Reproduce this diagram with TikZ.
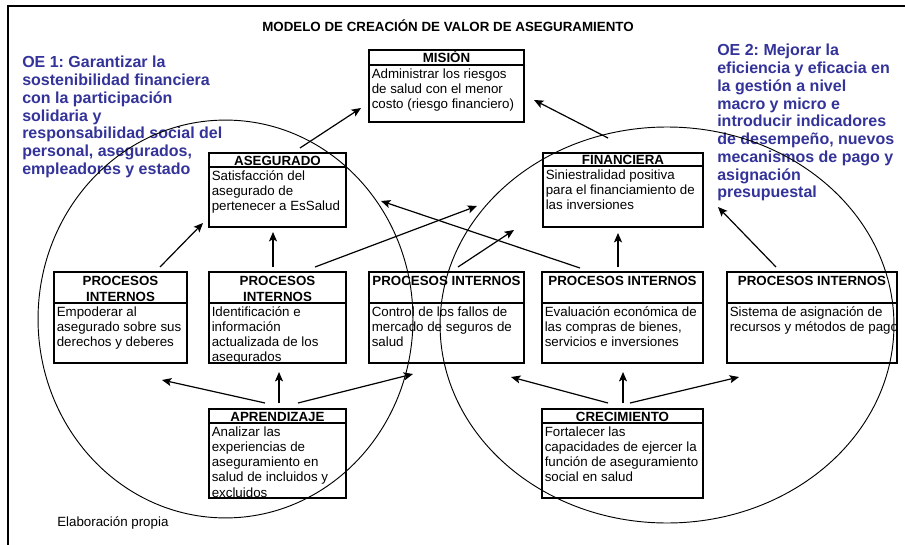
\documentclass[tikz,border=0pt]{standalone}
\usepackage{fontspec}
\setmainfont{Liberation Sans}
\usetikzlibrary{arrows.meta,calc,fit}
\definecolor{oeblue}{RGB}{51,51,153}
\frenchspacing

\tikzset{
  boxline/.style={draw, line width=1.5pt, inner sep=0pt},
  sepline/.style={line width=1.1pt},
  headtxt/.style={font=\fontsize{10}{12}\selectfont\bfseries, align=center, inner sep=0pt, anchor=north},
  bodytxt/.style={font=\fontsize{10}{11.4}\selectfont, align=left, inner sep=0pt, anchor=north west},
  link/.style={line width=0.9pt, -{Stealth[length=7pt,width=6pt,inset=1.5pt]}},
  orbit/.style={line width=0.7pt},
  goal/.style={font=\fontsize{12}{13.3}\selectfont\bfseries, text=oeblue, align=left, inner sep=0pt, anchor=north west},
}

% #1 name, #2 x1, #3 y1, #4 x2, #5 y2, #6 separator y, #7 header baseline, #8 header, #9 body
\newcommand{\valuebox}[9]{%
  \node[boxline, fit={(#2,#3) (#4,#5)}] (#1) {};
  \draw[sepline] (#2,#6) -- (#4,#6);
  \node[headtxt] (#1-h) at ({(#2+#4)/2},{#7-12.67}) {\rule{0pt}{9.5pt}#8};
  \node[bodytxt] (#1-b) at ({#2+2.5},{#6+2.3}) {\rule{0pt}{8pt}#9};
}

\begin{document}
\begin{tikzpicture}[x=0.75pt,y=-0.75pt]
\useasboundingbox (0,0) rectangle (905,545);

% outer frame
\draw[line width=1.1pt] (8,545) -- (8,6) -- (905,6);

% title
\node[font=\fontsize{10}{12}\selectfont\bfseries, anchor=base, inner sep=0pt] (title) at (448,31.8)
  {MODELO DE CREACIÓN DE VALOR DE ASEGURAMIENTO};

% strategic objectives
\node[goal] (oe1) at (22,53) {\rule{0pt}{11pt}OE 1: Garantizar la\\sostenibilidad financiera\\con la participación\\solidaria y\\responsabilidad social del\\personal, asegurados,\\empleadores y estado};
\node[goal] (oe2) at (717,41) {\rule{0pt}{11pt}OE 2: Mejorar la\\eficiencia y eficacia en\\la gestión a nivel\\macro y micro e\\introducir indicadores\\de desempeño, nuevos\\mecanismos de pago y\\asignación\\presupuestal};

% perspective boxes
\valuebox{mision}{369}{50}{524}{122}{65}{62}{MISIÓN}{Administrar los riesgos\\de salud con el menor\\costo (riesgo financiero)}
\valuebox{aseg}{209}{153}{346}{227}{167}{165}{ASEGURADO}{Satisfacción del\\asegurado de\\pertenecer a EsSalud}
\valuebox{fin}{543}{153}{703}{227}{166}{164}{FINANCIERA}{Siniestralidad positiva\\para el financiamiento de\\las inversiones}
\valuebox{p1}{54}{272}{187}{363}{303}{285}{PROCESOS\\INTERNOS}{Empoderar al\\asegurado sobre sus\\derechos y deberes}
\valuebox{p2}{209}{272}{346}{363}{303}{285}{PROCESOS\\INTERNOS}{Identificación e\\información\\actualizada de los\\asegurados}
\valuebox{p3}{369}{272}{524}{363}{303}{285.5}{PROCESOS INTERNOS}{Control de los fallos de\\mercado de seguros de\\salud}
\valuebox{p4}{542}{272}{703}{363}{303}{285.5}{PROCESOS INTERNOS}{Evaluación económica de\\las compras de bienes,\\servicios e inversiones}
\valuebox{p5}{727}{272}{897}{363}{303}{285.5}{PROCESOS INTERNOS}{Sistema de asignación de\\recursos y métodos de pago}
\valuebox{apr}{209}{409}{346}{498}{423}{421}{APRENDIZAJE}{Analizar las\\experiencias de\\aseguramiento en\\salud de incluidos y\\excluidos}
\valuebox{cre}{542}{409}{703}{498}{423}{421}{CRECIMIENTO}{Fortalecer las\\capacidades de ejercer la\\función de aseguramiento\\social en salud}

% free arrow end pointing at the second objective
\coordinate (oe2tip) at (718,207);

% upper links
\draw[link] ($(aseg.north)+(22.5,-4)$) -- ($(mision.west)+(-7,22)$);
\draw[link] ($(fin.north)+(-15,-14)$) -- ($(mision.east)+(9,14)$);
\draw[link] ($(p1.north)+(39.5,-4)$) -- ($(aseg.south west)+(-5,-5)$);
\draw[link] ($(p2.north)+(-4.5,-4)$) -- ($(aseg.south)+(-4.5,4)$);
\draw[link] ($(p2.north)+(37.5,-4)$) -- ($(fin.south west)+(-65,-22)$);
\draw[link] ($(p4.north)+(-42.5,-3)$) -- ($(aseg.east)+(34,11)$);
\draw[link] ($(p3.north)+(11.5,-4)$) -- ($(fin.south west)+(-28,2)$);
\draw[link] ($(p4.north)+(-4.5,-4)$) -- ($(fin.south)+(-5,5)$);
\draw[link] ($(p5.north)+(-36,-4)$) -- (oe2tip);

% lower links
\draw[link] ($(apr.north)+(-12.5,-5)$) -- ($(p1.south)+(41.5,16)$);
\draw[link] ($(apr.north)+(1.5,-5)$) -- ($(p2.south)+(1.5,8)$);
\draw[link] ($(apr.north)+(20.5,-5)$) -- ($(p3.south west)+(45,10)$);
\draw[link] ($(cre.north)+(-14.5,-5)$) -- ($(p3.south east)+(-14,13)$);
\draw[link] ($(cre.north)+(0.5,-5)$) -- ($(p4.south)+(0.5,8)$);
\draw[link] ($(cre.north)+(7.5,-5)$) -- ($(p5.south west)+(13,13)$);

% the two objective ellipses
\draw[orbit] (225.5,319) ellipse [x radius=140.6pt, y radius=149.2pt];
\draw[orbit] (667,325) ellipse [x radius=170.2pt, y radius=148.5pt];

% source note
\node[font=\fontsize{10}{12}\selectfont, anchor=base west, inner sep=0pt] (note) at (57,526.5) {Elaboración propia};
\end{tikzpicture}
\end{document}
